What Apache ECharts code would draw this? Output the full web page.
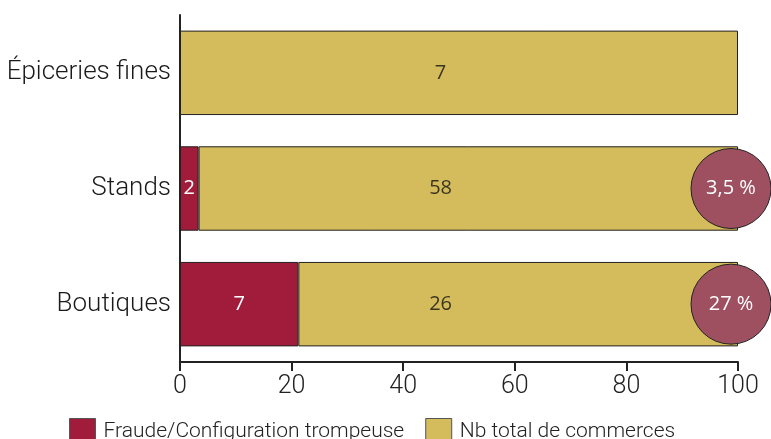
<!DOCTYPE html>
<html><head><meta charset="utf-8">
<script src="https://cdn.jsdelivr.net/npm/echarts@6/dist/echarts.min.js"></script>
<style>html,body{margin:0;padding:0;background:#fff}#c{width:771px;height:439px}</style>
</head><body><div id="c"></div>
<script>
const categories = ['Boutiques', 'Stands', 'Épiceries fines'];
const fraudCounts = [7, 2, 0];
const totalCounts = [26, 58, 7];
const fraudPctLabels = ['27 %', '3,5 %', null];
const xTicks = [0, 20, 40, 60, 80, 100];

const fraudShare = fraudCounts.map((f, i) => f / (f + totalCounts[i]) * 100);
const totalShare = totalCounts.map((t, i) => t / (fraudCounts[i] + t) * 100);

const RED = '#A01C3A', GOLD = '#D4BC5C', CIRCLE = '#9E5060';
const chart = echarts.init(document.getElementById('c'));
chart.setOption({
  animation: false,
  grid: {left: 180, right: 33, top: 15, bottom: 77, containLabel: false, outerBoundsMode: 'none'},
  legend: {
    top: 413, left: 64, itemWidth: 26, itemHeight: 26, itemGap: 21, icon: 'rect',
    textStyle: {fontFamily: 'Liberation Sans Narrow, Roboto', fontWeight: 300, fontSize: 21, color: '#222', padding: [0, 0, 0, 3]},
    data: [
      {name: 'Fraude/Configuration trompeuse', itemStyle: {borderColor: '#555', borderWidth: 1}},
      {name: 'Nb total de commerces', itemStyle: {borderColor: '#555', borderWidth: 1}}
    ]
  },
  xAxis: {
    type: 'value', min: 0, max: 100, interval: 20,
    axisLine: {show: true, lineStyle: {color: '#222', width: 2}},
    axisTick: {show: true, length: 9, lineStyle: {color: '#222', width: 2}},
    splitLine: {show: false},
    axisLabel: {fontFamily: 'Liberation Sans Narrow, Roboto', fontWeight: 300, fontSize: 25, color: '#222', margin: 12,
      formatter: v => xTicks.includes(v) ? String(v) : ''}
  },
  yAxis: {
    type: 'category', data: categories,
    axisLine: {show: true, lineStyle: {color: '#222', width: 2}},
    axisTick: {show: false},
    axisLabel: {fontFamily: 'Roboto', fontWeight: 300, fontSize: 26, color: '#1a1a1a', margin: 9}
  },
  series: [
    {
      name: 'Fraude/Configuration trompeuse', type: 'bar', stack: 's', barWidth: '73%',
      data: fraudShare.map((v, i) => ({value: v, label: {show: fraudCounts[i] > 0}})),
      itemStyle: {color: RED, borderColor: '#222', borderWidth: 1},
      label: {position: 'inside', color: '#fff', fontFamily: 'Open Sans', fontSize: 20,
        formatter: p => String(fraudCounts[p.dataIndex])}
    },
    {
      name: 'Nb total de commerces', type: 'bar', stack: 's', barWidth: '73%',
      data: totalShare,
      itemStyle: {color: GOLD, borderColor: '#222', borderWidth: 1},
      label: {show: false}
    },
    {
      type: 'scatter', silent: true, symbolSize: 0, z: 5,
      data: categories.map((c, i) => [46.7, c]),
      label: {show: true, position: 'inside', color: '#111', fontFamily: 'Open Sans', fontSize: 20,
        formatter: p => String(totalCounts[p.dataIndex])}
    },
    {
      type: 'scatter', silent: true, z: 6, symbolSize: 80, symbolOffset: [-7, 0],
      data: categories.map((c, i) => fraudPctLabels[i] ? [100, c] : null).filter(Boolean),
      itemStyle: {color: CIRCLE, borderColor: '#222', borderWidth: 1, opacity: 1},
      label: {show: true, position: 'inside', color: '#fff', fontFamily: 'Open Sans', fontSize: 20,
        formatter: p => fraudPctLabels[categories.indexOf(p.value[1])]}
    }
  ]
});
</script></body></html>
